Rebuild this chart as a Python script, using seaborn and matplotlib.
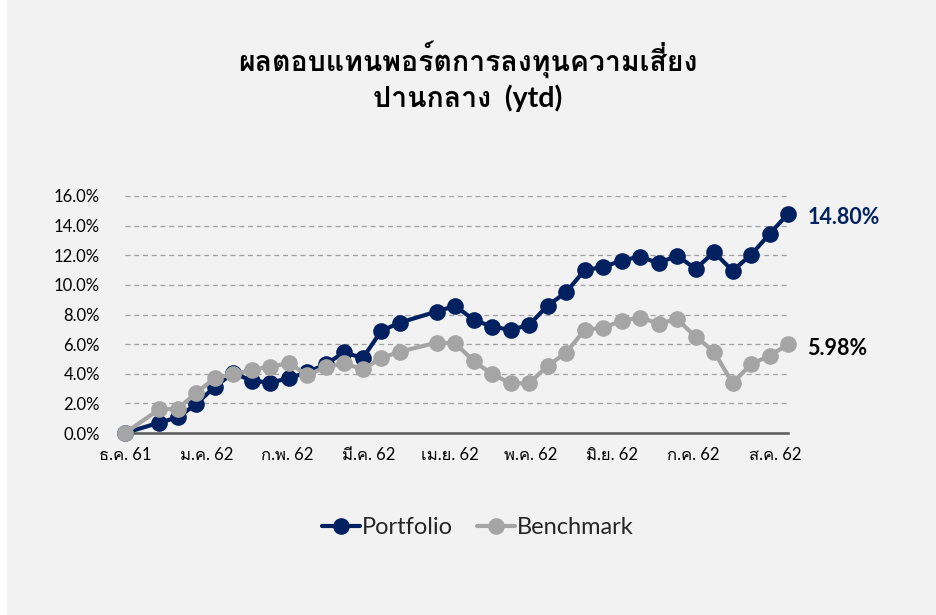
import numpy as np
import pandas as pd
import matplotlib
matplotlib.use("Agg")
import matplotlib.pyplot as plt
from matplotlib import font_manager, ft2font
from matplotlib.patches import FancyBboxPatch
from matplotlib.lines import Line2D
import matplotlib.patheffects as pe
import seaborn as sns

# ---------------- data ----------------
title_text = "ผลตอบแทนพอร์ตการลงทุนความเสี่ยง\nปานกลาง  (ytd)"
dates = ["2018-12-22", "2019-01-04", "2019-01-11", "2019-01-18", "2019-01-25",
         "2019-02-01", "2019-02-08", "2019-02-15", "2019-02-22", "2019-03-01",
         "2019-03-08", "2019-03-15", "2019-03-22", "2019-03-29", "2019-04-05",
         "2019-04-19", "2019-04-26", "2019-05-03", "2019-05-10", "2019-05-17",
         "2019-05-24", "2019-05-31", "2019-06-07", "2019-06-14", "2019-06-21",
         "2019-06-28", "2019-07-05", "2019-07-12", "2019-07-19", "2019-07-26",
         "2019-08-02", "2019-08-09", "2019-08-16", "2019-08-23", "2019-08-30"]
portfolio = [0.00, 0.70, 1.06, 1.96, 3.13, 4.05, 3.53, 3.40, 3.70, 4.10,
             4.64, 5.45, 5.05, 6.89, 7.45, 8.20, 8.58, 7.64, 7.18, 6.96,
             7.30, 8.60, 9.50, 11.00, 11.20, 11.64, 11.91, 11.46, 11.98, 11.08,
             12.21, 10.95, 12.03, 13.43, 14.80]
benchmark = [0.00, 1.60, 1.64, 2.72, 3.70, 3.97, 4.26, 4.48, 4.71, 3.92,
             4.44, 4.70, 4.30, 5.05, 5.49, 6.10, 6.06, 4.86, 3.97, 3.36,
             3.36, 4.53, 5.43, 6.96, 7.11, 7.57, 7.79, 7.39, 7.68, 6.51,
             5.49, 3.36, 4.64, 5.22, 5.98]
series_names = ["Portfolio", "Benchmark"]
end_labels = ["14.80%", "5.98%"]
month_labels = ["ธ.ค. 61", "ม.ค. 62", "ก.พ. 62", "มี.ค. 62", "เม.ย. 62",
                "พ.ค. 62", "มิ.ย. 62", "ก.ค. 62", "ส.ค. 62"]
y_ticks = [0, 2, 4, 6, 8, 10, 12, 14, 16]

# ---------------- fonts ----------------
def find_thai():
    fams = {}
    for f in font_manager.fontManager.ttflist:
        try:
            cm = ft2font.FT2Font(f.fname).get_charmap()
        except Exception:
            continue
        if 0x0E01 in cm and 0x0E2A in cm and 0x0E40 in cm:
            w = f.weight if isinstance(f.weight, int) else (700 if "bold" in str(f.weight).lower() else 400)
            fams.setdefault(f.name, set()).add(w)
    if not fams:
        return None, False
    pref = ["Noto Sans Thai", "Noto Sans Thai UI", "Tahoma", "Leelawadee", "Loma",
            "Garuda", "Sarabun", "Waree", "Kinnari", "Norasi"]
    with_bold = [n for n, ws in fams.items() if max(ws) >= 600]
    for p in pref:
        if p in with_bold:
            return p, True
    if with_bold:
        return with_bold[0], True
    for p in pref:
        if p in fams:
            return p, False
    return next(iter(fams)), False

thai, thai_bold = find_thai()
sns.set_theme(style="white")
fam = ["Lato"] + ([thai] if thai else []) + ["DejaVu Sans"]
plt.rcParams["font.family"] = fam

NAVY = "#002060"
GREY = "#A5A5A5"

df = pd.DataFrame({"date": pd.to_datetime(dates),
                   "Portfolio": portfolio, "Benchmark": benchmark})
df["day"] = (df["date"] - df["date"].iloc[0]).dt.days

fig = plt.figure(figsize=(9.36, 6.15), dpi=100, facecolor="white")
bg = FancyBboxPatch((7 / 936, -0.05), 1.2, 1.1 - 3 / 615,
                    boxstyle="round,pad=0,rounding_size=0.012",
                    transform=fig.transFigure, facecolor="#F2F2F2",
                    edgecolor="none", zorder=-10)
fig.patches.append(bg)

ax = fig.add_axes([125 / 936, 1 - 433 / 615, (788 - 125) / 936, (433 - 196) / 615])
ax.set_facecolor("none")

MS = 12
sns.lineplot(data=df, x="day", y="Portfolio", ax=ax, color=NAVY, lw=3,
             marker="o", markersize=MS, markeredgewidth=0, zorder=3,
             label="Portfolio", clip_on=False)
sns.lineplot(data=df, x="day", y="Benchmark", ax=ax, color=GREY, lw=3,
             marker="o", markersize=MS, markeredgewidth=0, zorder=4,
             label="Benchmark", clip_on=False)

xmax = df["day"].iloc[-1]
ax.set_xlim(0, xmax)
ax.set_ylim(0, 16)
ax.set_yticks(y_ticks)
ax.set_yticklabels([f"{v:.1f}%" for v in y_ticks], fontsize=12, color="#000000")
tick_pos = np.linspace(0, 246, len(month_labels))
ax.set_xticks(tick_pos)
ax.set_xticklabels(month_labels, fontsize=12, color="#000000")
ax.tick_params(axis="y", length=0, pad=18)
ax.tick_params(axis="x", length=0, pad=10)
ax.set_xlabel("")
ax.set_ylabel("")

for v in y_ticks[1:]:
    ax.axhline(v, color="#A0A0A0", lw=0.9, ls=(0, (4, 3)), zorder=1)
for s in ["top", "right", "left"]:
    ax.spines[s].set_visible(False)
ax.spines["bottom"].set_color("#595959")
ax.spines["bottom"].set_linewidth(1.8)
ax.spines["bottom"].set_zorder(2)

ax.annotate(end_labels[0], (xmax, portfolio[-1]), xytext=(14, -3),
            textcoords="offset points", ha="left", va="center",
            fontsize=15.5, fontweight="bold", color=NAVY)
ax.annotate(end_labels[1], (xmax, benchmark[-1]), xytext=(14, -3),
            textcoords="offset points", ha="left", va="center",
            fontsize=15.5, fontweight="bold", color="#000000")

title = fig.text(0.5, 1 - 76 / 615, title_text, ha="center", va="center",
                 fontsize=20.5, fontweight="bold", color="#000000", linespacing=1.3)
if not thai_bold:
    title.set_path_effects([pe.withStroke(linewidth=1.1, foreground="#000000")])

ax.get_legend().remove()
handles = [Line2D([0], [0], color=NAVY, lw=3, marker="o", markersize=MS, markeredgewidth=0),
           Line2D([0], [0], color=GREY, lw=3, marker="o", markersize=MS, markeredgewidth=0)]
fig.legend(handles, series_names, loc="center", bbox_to_anchor=(478 / 936, 1 - 528 / 615),
           ncol=2, frameon=False, fontsize=17, handlelength=1.6, handletextpad=0.1,
           columnspacing=1.0)

fig.savefig("out.png", dpi=100, facecolor=fig.get_facecolor())
